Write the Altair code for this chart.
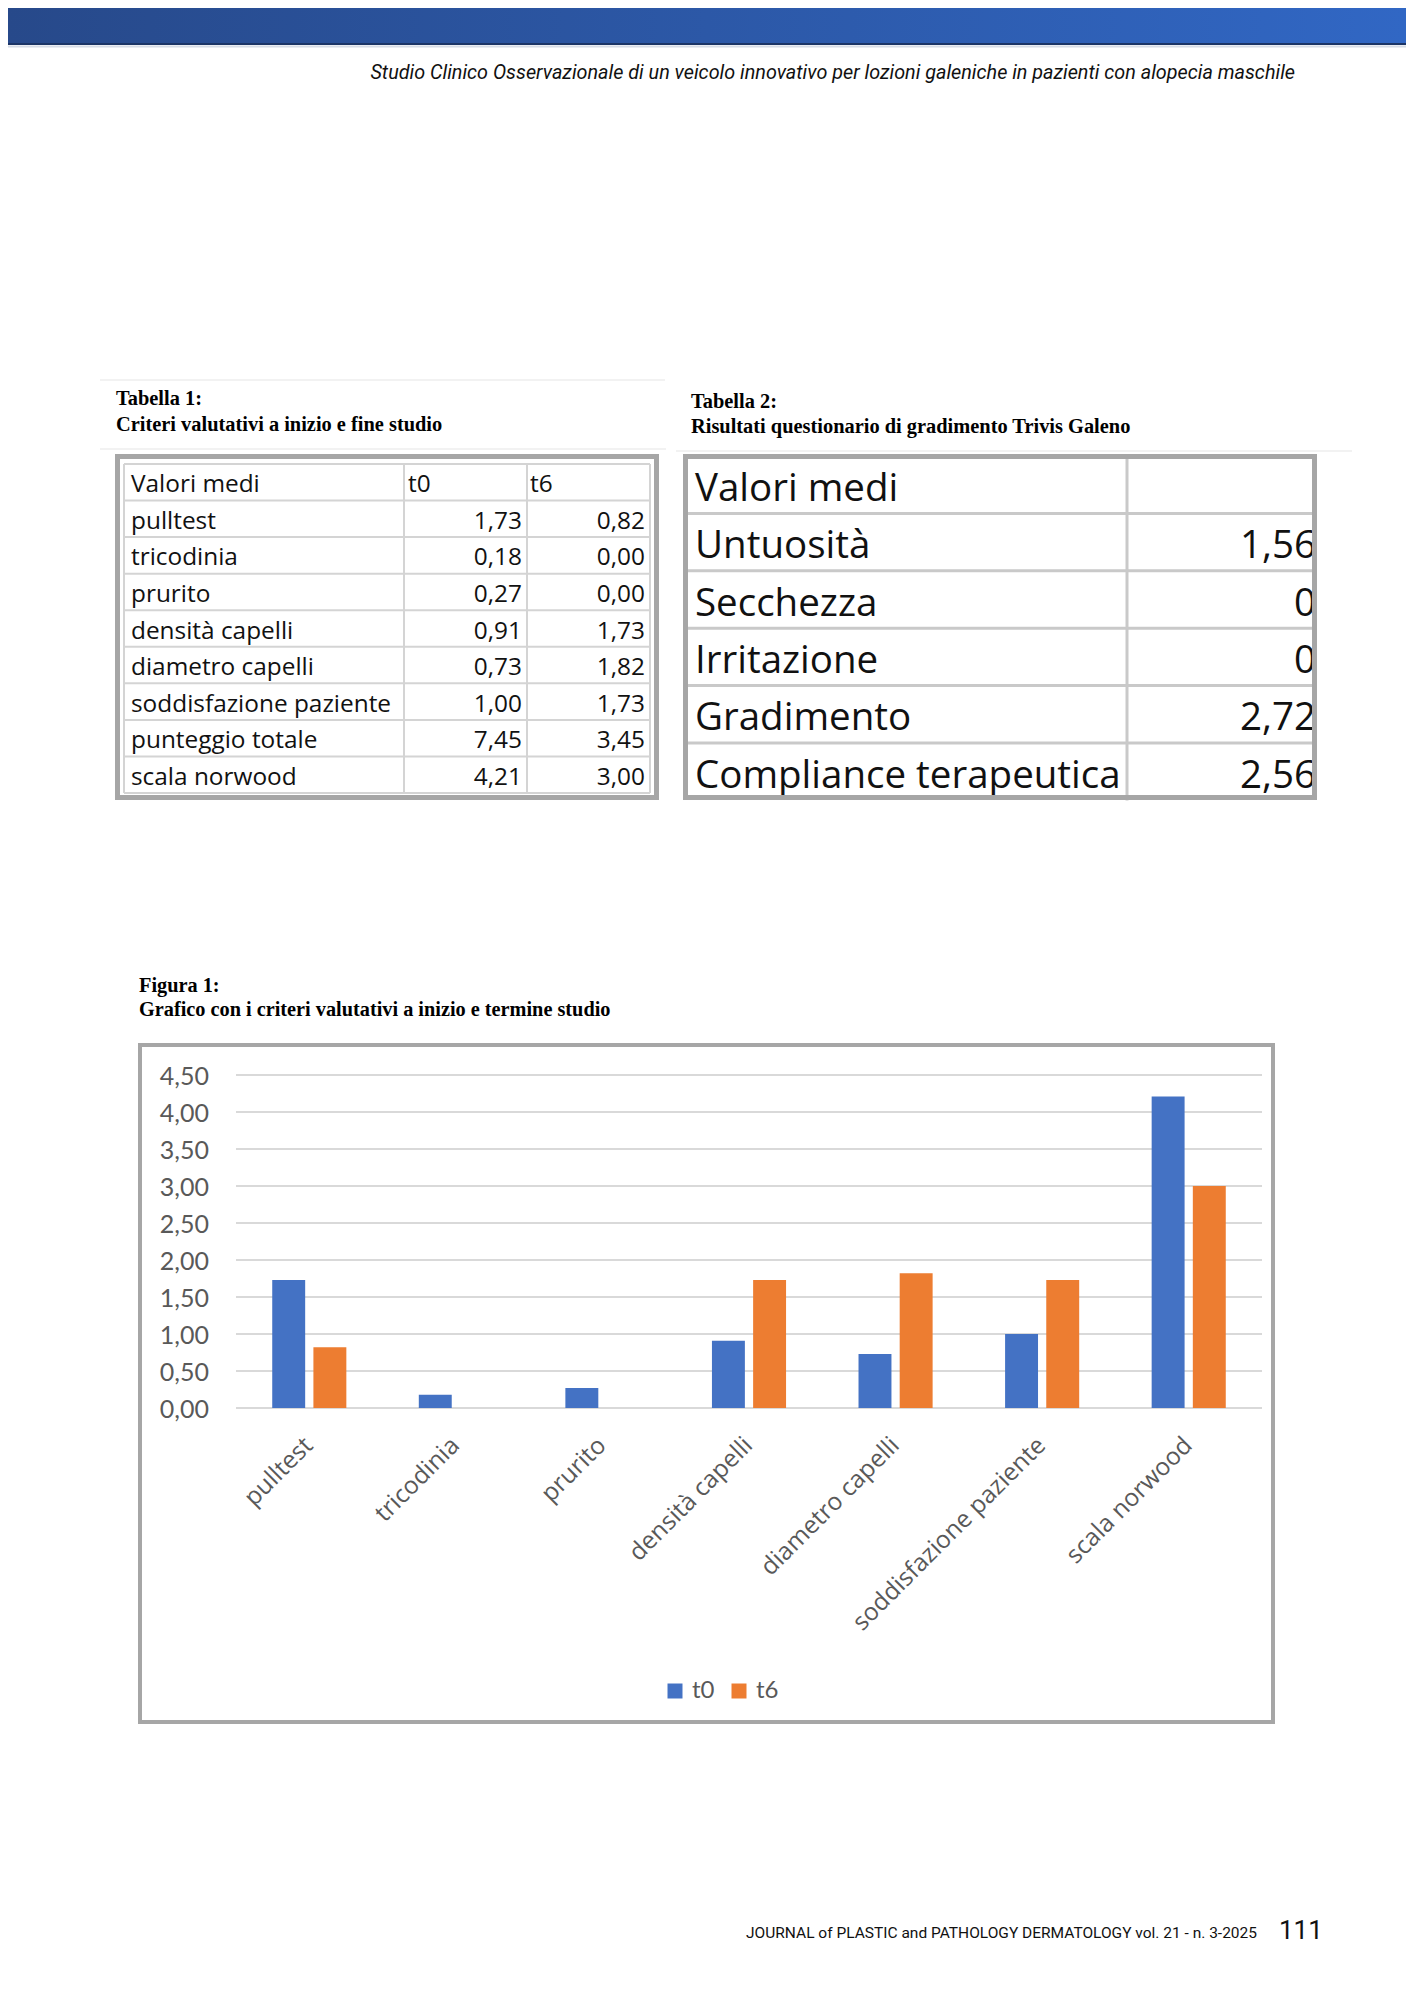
import altair as alt
import pandas as pd

# ---------------- data ----------------
categories = ["pulltest", "tricodinia", "prurito", "densità capelli",
              "diametro capelli", "soddisfazione paziente", "scala norwood"]
t0_values = [1.73, 0.18, 0.27, 0.91, 0.73, 1.00, 4.21]
t6_values = [0.82, 0.00, 0.00, 1.73, 1.82, 1.73, 3.00]
series = ["t0", "t6"]
series_colors = ["#4472c4", "#ed7d31"]
y_ticks = [0.0, 0.5, 1.0, 1.5, 2.0, 2.5, 3.0, 3.5, 4.0, 4.5]

t1_rows = ["pulltest", "tricodinia", "prurito", "densità capelli", "diametro capelli",
           "soddisfazione paziente", "punteggio totale", "scala norwood"]
t1_t0 = [1.73, 0.18, 0.27, 0.91, 0.73, 1.00, 7.45, 4.21]
t1_t6 = [0.82, 0.00, 0.00, 1.73, 1.82, 1.73, 3.45, 3.00]

t2_rows = ["Untuosità", "Secchezza", "Irritazione", "Gradimento", "Compliance terapeutica"]
t2_values = [1.56, 0, 0, 2.72, 2.56]

header_text = "Studio Clinico Osservazionale di un veicolo innovativo per lozioni galeniche in pazienti con alopecia maschile"
footer_text = "JOURNAL of PLASTIC and PATHOLOGY DERMATOLOGY vol. 21 - n. 3-2025"
page_number = "111"

M = 8  # page margin


def comma(v, dec=2):
    return f"{v:.{dec}f}".replace(".", ",")


def texts(rows, font, size, weight="normal", style="normal", align="left", color="#000000"):
    df = pd.DataFrame(rows, columns=["px", "py", "label"])
    df["px"] = df["px"] - M
    df["py"] = df["py"] - M
    return alt.Chart(df).mark_text(
        font=font, fontSize=size, fontWeight=weight, fontStyle=style,
        align=align, baseline="middle", color=color
    ).encode(
        x=alt.X("px:Q", scale=None, axis=None),
        y=alt.Y("py:Q", scale=None, axis=None),
        text="label:N",
    )


def lines(segs, color, width):
    df = pd.DataFrame(segs, columns=["x1", "y1", "x2", "y2"]) - M
    return alt.Chart(df).mark_rule(color=color, strokeWidth=width).encode(
        x=alt.X("x1:Q", scale=None, axis=None),
        y=alt.Y("y1:Q", scale=None, axis=None),
        x2="x2:Q", y2="y2:Q",
    )


def rects(boxes, fill, stroke=None, width=0):
    df = pd.DataFrame(boxes, columns=["x1", "y1", "x2", "y2"]) - M
    kw = dict(fill=fill, strokeWidth=width)
    if stroke:
        kw["stroke"] = stroke
    return alt.Chart(df).mark_rect(**kw).encode(
        x=alt.X("x1:Q", scale=None, axis=None),
        y=alt.Y("y1:Q", scale=None, axis=None),
        x2="x2:Q", y2="y2:Q",
    )


layers = []

# ---------------- header ----------------
grad = alt.LinearGradient(
    gradient="linear",
    stops=[alt.GradientStop(color="#27498a", offset=0),
           alt.GradientStop(color="#3167c4", offset=1)],
    x1=0, x2=1, y1=0, y2=0,
)
layers.append(rects([[8, 8, 1406, 44]], grad))
layers.append(lines([[8, 44, 1406, 44]], "#1c3566", 2))
layers.append(lines([[8, 46.5, 1406, 46.5]], "#d5dbe6", 2))
layers.append(texts([[1295, 73, header_text]], "Roboto", 19.8, style="italic", align="right", color="#111111"))

# ---------------- table 1 ----------------
layers.append(texts([[116, 399, "Tabella 1:"],
                     [116, 425, "Criteri valutativi a inizio e fine studio"]],
                    "Liberation Serif", 20.4, weight="bold"))
layers.append(lines([[100, 380, 665, 380], [100, 449, 666, 449]], "#eeeeee", 1.5))

T1_TOP, T1_STEP = 464, 36.56
t1_x = [124, 404, 527, 650]
seg = [[x, T1_TOP, x, T1_TOP + 9 * T1_STEP] for x in t1_x]
seg += [[124, T1_TOP + i * T1_STEP, 650, T1_TOP + i * T1_STEP] for i in range(10)]
layers.append(lines(seg, "#d4d4d4", 2))
c = [T1_TOP + T1_STEP * (i + 0.5) + 3 for i in range(9)]
layers.append(texts([[131, c[0], "Valori medi"], [408, c[0], "t0"], [530, c[0], "t6"]]
                    + [[131, c[i + 1], r] for i, r in enumerate(t1_rows)],
                    "Open Sans", 24.4, color="#111111"))
layers.append(texts([[522, c[i + 1], comma(v)] for i, v in enumerate(t1_t0)]
                    + [[645, c[i + 1], comma(v)] for i, v in enumerate(t1_t6)],
                    "Open Sans", 24.4, align="right", color="#111111"))
layers.append(rects([[117.5, 456.5, 656.5, 797.5]], "transparent", "#a6a6a6", 5))

# ---------------- table 2 ----------------
layers.append(texts([[691, 402, "Tabella 2:"],
                     [691, 427, "Risultati questionario di gradimento Trivis Galeno"]],
                    "Liberation Serif", 20.4, weight="bold"))
layers.append(lines([[676, 451, 1352, 451]], "#eeeeee", 1.5))

T2_TOP, T2_STEP = 456, 57.4
seg = [[1127, T2_TOP, 1127, T2_TOP + 6 * T2_STEP]]
seg += [[686, T2_TOP + i * T2_STEP, 1314, T2_TOP + i * T2_STEP] for i in range(1, 6)]
layers.append(lines(seg, "#c9c9c9", 3))
c2 = [T2_TOP + T2_STEP * (i + 0.5) + 4 for i in range(6)]
layers.append(texts([[695, c2[0], "Valori medi"]] + [[695, c2[i + 1], r] for i, r in enumerate(t2_rows)],
                    "Open Sans", 38.5, color="#111111"))
layers.append(texts([[1316, c2[i + 1], comma(v) if v != 0 else "0"] for i, v in enumerate(t2_values)],
                    "Open Sans", 38.5, align="right", color="#111111"))
layers.append(rects([[685.5, 456.5, 1314.5, 797.5]], "transparent", "#a6a6a6", 5))

# ---------------- figure 1 ----------------
layers.append(texts([[139, 986, "Figura 1:"],
                     [139, 1010, "Grafico con i criteri valutativi a inizio e termine studio"]],
                    "Liberation Serif", 20.3, weight="bold"))
layers.append(rects([[140, 1045, 1273, 1722]], "white", "#a6a6a6", 4))

xs = alt.Scale(domain=categories, range=[236 - M, 1262 - M], paddingInner=0, paddingOuter=0)
ys = alt.Scale(domain=[0, 4.5], range=[1408 - M, 1075 - M], nice=False, zero=True)

grid_df = pd.DataFrame({"v": y_ticks, "lab": [comma(v) for v in y_ticks]})
layers.append(alt.Chart(grid_df).mark_rule(color="#d9d9d9", strokeWidth=2).encode(
    y=alt.Y("v:Q", scale=ys, axis=None),
    x=alt.value(236 - M), x2=alt.value(1262 - M),
))
layers.append(alt.Chart(grid_df).mark_text(
    font="Lato", fontSize=25, align="right", baseline="middle", color="#595959", dy=2
).encode(
    y=alt.Y("v:Q", scale=ys, axis=None),
    x=alt.value(209 - M),
    text="lab:N",
))

bars_df = pd.DataFrame({
    "categoria": categories * 2,
    "serie": ["t0"] * len(categories) + ["t6"] * len(categories),
    "v": t0_values + t6_values,
})
layers.append(alt.Chart(bars_df).mark_bar().encode(
    x=alt.X("categoria:N", scale=xs, axis=None, sort=categories),
    xOffset=alt.XOffset("serie:N", sort=series,
                        scale=alt.Scale(paddingInner=0.2, paddingOuter=0.88)),
    y=alt.Y("v:Q", scale=ys, axis=None),
    color=alt.Color("serie:N", sort=series,
                    scale=alt.Scale(domain=series, range=series_colors),
                    legend=alt.Legend(orient="none", legendX=655, legendY=1671,
                                      direction="horizontal", title=None,
                                      symbolType="square", symbolSize=225,
                                      symbolStrokeWidth=0, symbolOpacity=1,
                                      labelFont="Lato", labelFontSize=24,
                                      labelColor="#595959", columnPadding=12,
                                      labelOffset=5, padding=0)),
))

cat_df = pd.DataFrame({"categoria": categories})
layers.append(alt.Chart(cat_df).mark_text(
    font="Open Sans", fontSize=24.5, angle=315, align="right", baseline="middle", color="#595959"
).encode(
    x=alt.X("categoria:N", scale=xs, axis=None, sort=categories, bandPosition=0.54),
    y=alt.value(1442 - M),
    text="categoria:N",
))

# ---------------- footer ----------------
layers.append(texts([[1257, 1933, footer_text]], "Roboto", 15.5, align="right", color="#111111"))
layers.append(texts([[1279, 1931, page_number]], "Roboto", 26, color="#111111"))

chart = alt.layer(*layers).resolve_scale(
    x="independent", y="independent"
).properties(
    width=1398, height=1984, padding=0,
    autosize=alt.AutoSizeParams(type="none"),
    background="white",
).configure_view(stroke=None)

chart.save("out.html", embed_options={"renderer": "svg", "actions": False})
